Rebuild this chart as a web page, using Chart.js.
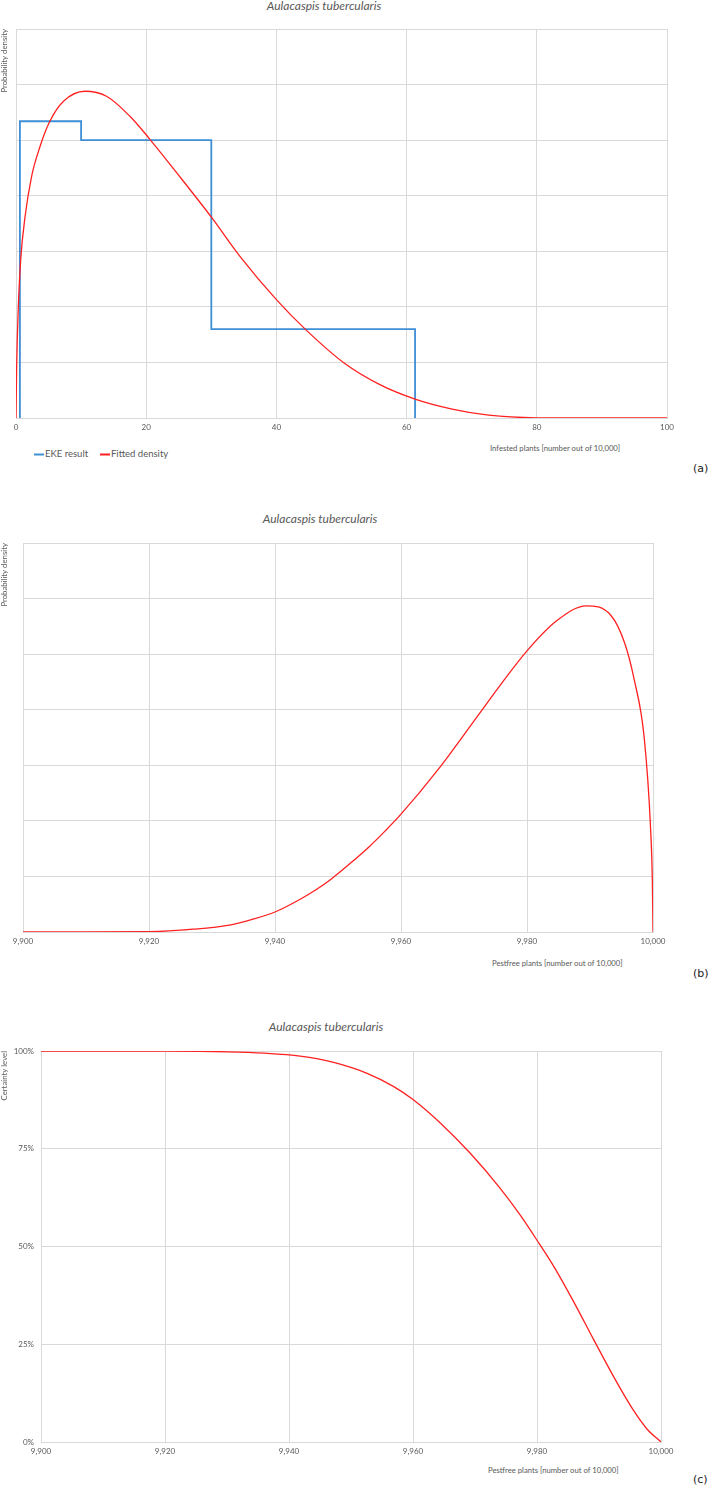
<!DOCTYPE html>
<html>
<head>
<meta charset="utf-8">
<script src="https://cdn.jsdelivr.net/npm/chart.js@4.4.0/dist/chart.umd.min.js"></script>
<style>
    body { margin: 0; background: #fff; width: 709px; height: 1486px; position: relative; overflow: hidden; font-family: Lato, sans-serif; }
    .box { position: absolute; left: 0; width: 709px; }
    .ttl { position: absolute; font-style: italic; font-size: 12px; color: #595959; transform: translate(-50%, -50%); white-space: nowrap; }
    .xt { position: absolute; font-size: 7.7px; color: #595959; transform: translateY(-50%); white-space: nowrap; }
    .tag { position: absolute; font-family: "DejaVu Sans", sans-serif; font-size: 11px; color: #222; transform: translateY(-50%); }
    .leg { position: absolute; top: 453px; font-size: 9.5px; color: #595959; transform: translateY(-50%); white-space: nowrap; }
    .leg span { display: inline-block; width: 10px; height: 2px; vertical-align: middle; margin-right: 1px; }
</style>
</head>
<body>

<div class="ttl" style="left:324px; top:5px;">Aulacaspis tubercularis</div>
<div class="box" style="top:0; height:435px;"><canvas id="chartA"></canvas></div>
<div class="xt" style="left:490px; top:448px;">Infested plants [number out of 10,000]</div>
<div class="leg" style="left:34px;"><span style="background:#3f8fd6"></span>EKE result</div>
<div class="leg" style="left:100px;"><span style="background:#ff2020"></span>Fitted density</div>
<div class="tag" style="left:693px; top:468px;">(a)</div>

<div class="ttl" style="left:320px; top:518px;">Aulacaspis tubercularis</div>
<div class="box" style="top:514px; height:435px;"><canvas id="chartB"></canvas></div>
<div class="xt" style="left:492px; top:963px;">Pestfree plants [number out of 10,000]</div>
<div class="tag" style="left:693px; top:973px;">(b)</div>

<div class="ttl" style="left:326px; top:1026px;">Aulacaspis tubercularis</div>
<div class="box" style="top:1022px; height:437px;"><canvas id="chartC"></canvas></div>
<div class="xt" style="left:488px; top:1470px;">Pestfree plants [number out of 10,000]</div>
<div class="tag" style="left:693px; top:1479px;">(c)</div>

<script>
// EKE result (histogram from the elicited quantiles)
const ekeEdges = [0.6, 10, 30, 61.3];
const ekeDensity = [0.0267, 0.025, 0.008];

// Fitted density, infested plants
const infestedX = [0, 0.1, 0.36, 0.72, 1.4, 2.4, 3.7, 5.2, 7.3, 10.6, 13.9, 17.5, 20.6, 24.7, 30.1, 34.4, 40, 44.5, 50.4, 55.9, 61.3, 67, 72.6, 80, 90, 100];
const infestedDensity = [0, 0.0046, 0.0100, 0.01425, 0.01815, 0.02175, 0.02445, 0.0267, 0.0285, 0.0294, 0.02895, 0.02715, 0.02505, 0.02205, 0.0180, 0.01455, 0.01065, 0.00795, 0.00495, 0.0030, 0.0017, 0.0008, 0.00025, 0.00002, 0, 0];

// Fitted density, pestfree plants
const pestfreeX = [9900, 9910, 9920, 9927, 9933, 9936.5, 9940, 9944, 9946.5, 9949, 9952, 9955, 9957.5, 9960, 9966, 9972.5, 9976, 9980, 9984.7, 9989.4, 9993.3, 9995.5, 9997, 9998.6, 9999.6, 9999.9, 10000];
const pestfreeDensity = [0, 0, 0.000025, 0.00025, 0.00065, 0.00115, 0.0018, 0.00295, 0.0038, 0.0048, 0.0062, 0.0077, 0.0091, 0.0106, 0.0147, 0.0197, 0.0224, 0.0253, 0.028, 0.02935, 0.0285, 0.026, 0.02275, 0.0175, 0.0095, 0.0045, 0];
const densityTicks = [0, 0.005, 0.01, 0.015, 0.02, 0.025, 0.03, 0.035];

// Certainty level (%), pestfree plants
const certaintyX = [9900, 9920, 9930, 9936, 9941.8, 9947.2, 9952.6, 9956.9, 9960, 9964.4, 9969.2, 9974.1, 9977.3, 9980, 9982.7, 9985.9, 9989.1, 9992.4, 9995.6, 9997.7, 10000];
const certaintyPct = [100, 99.97, 99.8, 99.45, 98.7, 97.1, 94.3, 90.9, 87.6, 81.6, 73.9, 64.8, 58.0, 51.6, 44.9, 35.9, 26.3, 16.6, 8.0, 3.4, 0];
const certaintyTickValues = [0, 25, 50, 75, 100];
const certaintyTicks = ['0%', '25%', '50%', '75%', '100%'];

const gridColor = '#d9d9d9';
const textColor = '#595959';
const tickFont = { family: 'Lato', size: 8 };
const titleFont = { family: 'Lato', size: 7.8 };

function pairs(xs, ys) {
    return xs.map((x, i) => ({ x: x, y: ys[i] }));
}

function ekePoints() {
    const pts = [{ x: ekeEdges[0], y: 0 }];
    ekeDensity.forEach((d, i) => pts.push({ x: ekeEdges[i], y: d }));
    pts.push({ x: ekeEdges[ekeEdges.length - 1], y: 0 });
    return pts;
}

function xScale(min, max) {
    return {
        type: 'linear',
        min: min,
        max: max,
        afterFit: s => { s.height = 17; },
        ticks: { stepSize: 20, color: textColor, font: tickFont, padding: 5, maxRotation: 0 },
        grid: { color: gridColor, drawTicks: false },
        border: { color: gridColor }
    };
}

function yScale(tickValues, width, title, labels) {
    return {
        min: tickValues[0],
        max: tickValues[tickValues.length - 1],
        afterFit: s => { s.width = width; },
        afterBuildTicks: s => { s.ticks = tickValues.map(v => ({ value: v })); },
        ticks: {
            display: !!labels,
            color: textColor,
            font: tickFont,
            padding: 7,
            callback: (v, i) => labels ? labels[i] : ''
        },
        grid: { color: gridColor, drawTicks: false },
        border: { color: gridColor },
        title: { display: true, text: title, align: 'end', color: textColor, font: titleFont, padding: { top: 0, bottom: 0 } }
    };
}

function baseOptions(padRight, scales) {
    return {
        responsive: true,
        maintainAspectRatio: false,
        animation: false,
        locale: 'en-US',
        layout: { padding: { top: 29, right: padRight, bottom: 0, left: 0 } },
        plugins: { legend: { display: false }, tooltip: { enabled: false } },
        elements: { point: { radius: 0 } },
        scales: scales
    };
}

// (a) Infested plants
new Chart(document.getElementById('chartA'), {
    type: 'line',
    data: {
        datasets: [{
            label: 'Fitted density',
            data: pairs(infestedX, infestedDensity),
            borderColor: '#ff2020',
            borderWidth: 1.3,
            cubicInterpolationMode: 'monotone',
            order: 0
        }, {
            label: 'EKE result',
            data: ekePoints(),
            borderColor: '#3f8fd6',
            borderWidth: 1.8,
            stepped: 'before',
            order: 1
        }]
    },
    options: baseOptions(42, {
        x: xScale(0, 100),
        y: yScale(densityTicks, 16, 'Probability density', null)
    })
});

// (b) Pestfree plants, density
new Chart(document.getElementById('chartB'), {
    type: 'line',
    data: {
        datasets: [{
            label: 'Fitted density',
            data: pairs(pestfreeX, pestfreeDensity),
            borderColor: '#ff2020',
            borderWidth: 1.3,
            cubicInterpolationMode: 'monotone'
        }]
    },
    options: baseOptions(56, {
        x: xScale(9900, 10000),
        y: yScale(densityTicks, 23, 'Probability density', null)
    })
});

// (c) Pestfree plants, certainty
new Chart(document.getElementById('chartC'), {
    type: 'line',
    data: {
        datasets: [{
            label: 'Certainty level',
            data: pairs(certaintyX, certaintyPct),
            borderColor: '#ff2020',
            borderWidth: 1.3,
            cubicInterpolationMode: 'monotone'
        }]
    },
    options: baseOptions(48, {
        x: xScale(9900, 10000),
        y: yScale(certaintyTickValues, 41, 'Certainty level', certaintyTicks)
    })
});
</script>
</body>
</html>
